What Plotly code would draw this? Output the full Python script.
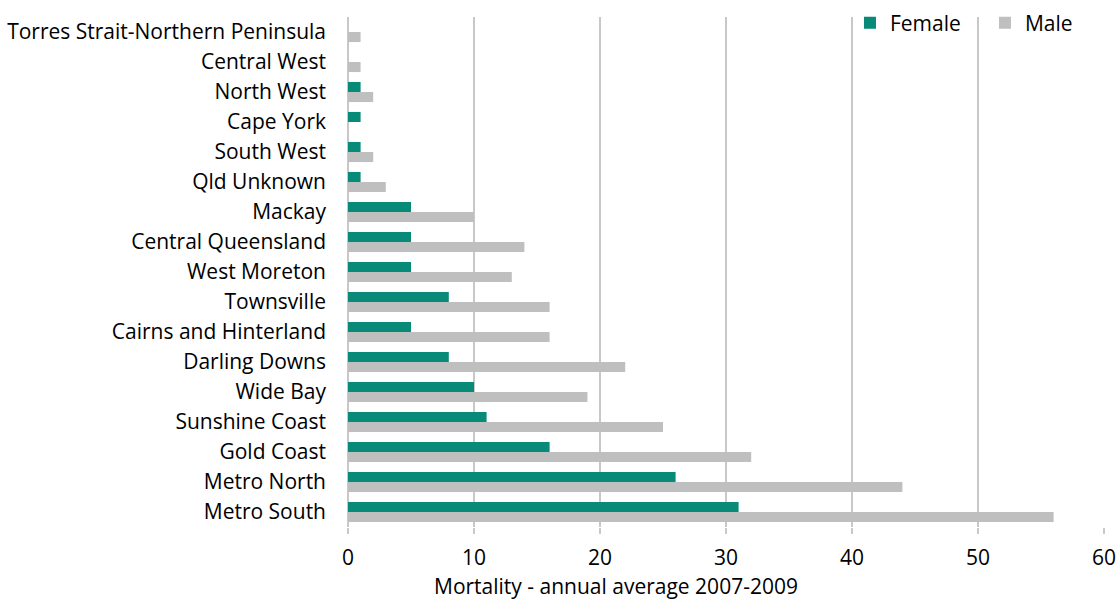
import plotly.graph_objects as go

regions = ["Torres Strait-Northern Peninsula", "Central West", "North West", "Cape York",
           "South West", "Qld Unknown", "Mackay", "Central Queensland", "West Moreton",
           "Townsville", "Cairns and Hinterland", "Darling Downs", "Wide Bay",
           "Sunshine Coast", "Gold Coast", "Metro North", "Metro South"]
female = [0, 0, 1, 1, 1, 1, 5, 5, 5, 8, 5, 8, 10, 11, 16, 26, 31]
male = [1, 1, 2, 0, 2, 3, 10, 14, 13, 16, 16, 22, 19, 25, 32, 44, 56]
x_title = "Mortality - annual average 2007-2009"

FONT = "Open Sans, Lato, sans-serif"

fig = go.Figure()
fig.add_trace(go.Bar(y=regions, x=female, name="Female", orientation="h",
                     marker=dict(color="#088A78", line=dict(width=0))))
fig.add_trace(go.Bar(y=regions, x=male, name="Male", orientation="h",
                     marker=dict(color="#BFBFBF", line=dict(width=0))))

fig.update_layout(
    width=1120, height=599,
    paper_bgcolor="white", plot_bgcolor="white",
    margin=dict(l=348, r=16, t=17, b=72, autoexpand=False),
    barmode="group", bargap=0.33, bargroupgap=0,
    font=dict(family=FONT, size=21, color="#000000"),
    legend=dict(orientation="h", x=0.664, y=1.028, xanchor="left", yanchor="top",
                font=dict(size=21), bgcolor="rgba(0,0,0,0)", itemwidth=30,
                entrywidth=90, entrywidthmode="pixels"),
    xaxis=dict(range=[0, 60], dtick=10, showgrid=True, gridcolor="#C8C8C8", gridwidth=2,
               zeroline=True, zerolinecolor="#C8C8C8", zerolinewidth=2,
               ticks="outside", ticklen=6, tickcolor="#C8C8C8", tickwidth=2,
               ticklabelstandoff=6, automargin=False,
               tickfont=dict(size=21)),
    yaxis=dict(autorange="reversed", showgrid=False, ticks="", tickfont=dict(size=21),
               ticklabelstandoff=21, automargin=False),
    annotations=[dict(text=x_title, xref="paper", yref="paper", x=0.3545, y=-0.1157,
                      xanchor="center", yanchor="middle", showarrow=False,
                      font=dict(size=21, color="#000000"))],
)

fig.write_html("out.html", config={"displayModeBar": False},
               post_script="document.body.style.margin='0';document.body.style.overflow='hidden';")
